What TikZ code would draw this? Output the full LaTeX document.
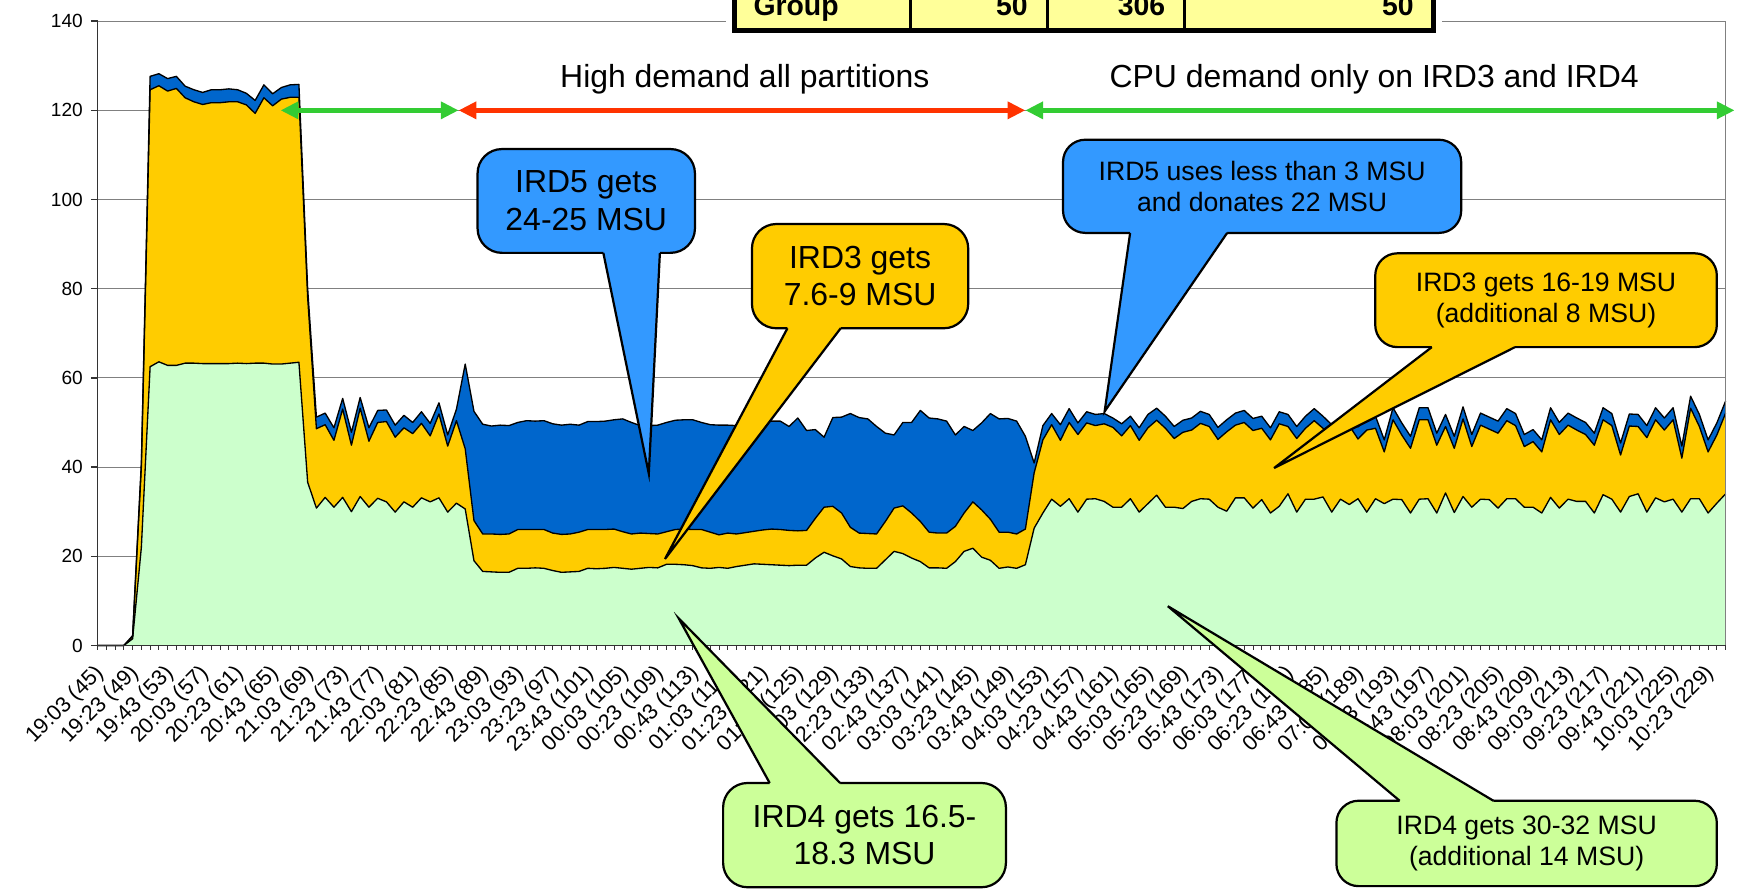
\documentclass[tikz,border=0pt]{standalone}
\usepackage{fontspec}
\setmainfont{Liberation Sans}
\usetikzlibrary{arrows.meta}
\definecolor{irdgreen}{RGB}{204,255,204}
\definecolor{irdyellow}{RGB}{255,204,0}
\definecolor{irdblue}{RGB}{0,102,204}
\definecolor{callblue}{RGB}{51,153,255}
\definecolor{callgreen}{RGB}{204,255,153}
\definecolor{tabyellow}{RGB}{255,255,153}
\definecolor{arrgreen}{RGB}{51,204,51}
\definecolor{arrred}{RGB}{255,51,0}
\definecolor{gridgray}{RGB}{128,128,128}
\def\Glist{0,0,0,0,1.5,22,
62.5,63.6,62.8,62.8,63.3,63.3,63.2,63.2,63.2,63.2,63.3,63.2,63.3,63.3,63.1,63.1,63.3,63.5,
36.6,
30.8,33.2,31,33.2,30,33.4,31,33,32.2,29.9,32.2,31,33.1,32.2,33.1,29.9,31.9,
30.6,19,
16.6,16.5,16.4,16.4,17.3,17.3,17.4,17.3,16.8,16.4,16.5,16.6,17.3,
17.2,17.3,17.5,17.3,17.1,17.3,17.5,17.4,18.2,18.2,18.1,17.9,17.4,17.3,17.5,17.3,17.7,18,18.3,18.2,18.1,18,17.9,18,18,19.6,20.9,20.1,19.4,17.7,17.4,17.3,17.3,19.2,21.1,20.6,19.6,18.8,17.4,17.4,17.3,18.8,21.1,21.8,19.8,19.1,17.3,17.6,17.3,18.1,
26.3,29.7,32.8,31.2,32.9,29.9,32.8,32.9,32.3,31,31,32.9,29.9,31.8,33.7,
31,31,30.7,32.3,32.9,32.8,31,30.1,33.1,33.1,30.8,32.7,29.7,31.2,34,29.9,32.8,32.8,33.3,29.9,32.8,31.6,32.9,29.9,32.9,31.8,32.8,32.7,29.7,32.8,32.9,29.7,34.2,29.8,33.4,31,32.8,32.7,30.8,32.9,32.9,31,31,29.7,33.2,30.8,32.8,32.3,32.3,29.7,33.8,32.8,29.9,33.4,34,29.9,33.1,32.2,32.8,29.9,32.9,32.9,29.7,31.9,34}
\def\Ylist{0,0,0,0,2,40,
124.6,125.5,124.3,124.9,122.8,121.9,121.3,121.7,121.7,121.9,121.9,121.2,119.3,122.8,121,122.5,122.9,122.9,
78,
48.6,49.5,46,53,44.9,53.2,45.8,50,50.2,46.7,48.8,47.5,49.8,47,51.9,44.7,50.4,
44.1,28,
25,25,24.9,25,26,26,26,26,25.2,24.9,25,25.4,26,
26,26,26.1,25.5,25,25.2,25.1,25,25.5,26,26.1,26,26,25.4,24.8,25.2,25,25.3,25.6,25.9,26.1,26,25.8,25.7,25.8,28.5,31,31.2,29.7,26.5,25.2,25.1,25,27.8,30.8,31.3,29.7,27.8,25.4,25.2,25.2,26.7,29.7,32.2,30.4,28.3,25.4,25.4,25,26.1,
38.7,46.1,49.5,46,50,47.3,49.9,49.3,49.7,48.9,47,49.3,46,48.8,50.5,
48.7,46.4,47.8,48.3,49.8,49.1,46.2,47.9,49.4,50,48.2,48.7,46.1,49.7,49.1,46.4,48.7,50.4,48.7,46.8,47.3,49.3,46.3,48.3,48.7,43.4,50.6,47.2,44.2,50.6,50.6,44.9,49.1,44.2,50.8,44.6,49.4,48.5,47.6,50.4,49.3,44.6,45.7,43.4,50.6,47.3,49.4,48.3,47.3,44.9,50.6,49.3,42.7,49.2,49.1,46.6,50.6,48.3,50.6,42,53.2,49.1,43.4,47.2,52.1}
\def\Blist{0,0,0,0,2.2,41,
127.6,128.2,127.1,127.6,125.4,124.6,124,124.6,124.6,124.8,124.6,123.8,122.2,125.7,123.7,125.1,125.7,125.8,
80,
51.2,52.1,48.8,55.4,47.8,55.6,48.8,52.7,52.8,49.4,51.6,50,52.4,49.8,54.4,47.2,53,
63.1,52.5,
49.6,49.2,49.4,49.3,50,50.4,50.3,50.4,49.7,49.4,49.6,49.4,50.2,
50.2,50.3,50.6,50.8,50,49.3,49.3,49.4,50,50.5,50.6,50.6,50,49.5,49.4,49.4,49.3,49.3,49.8,50.2,50.3,50.3,49.1,51,48.2,48.4,46.7,51.1,51.2,52,51.1,50.8,49.1,47.6,47.2,50,50,52.7,51,50.8,50.3,47.2,49.1,48.2,49.9,52,50.8,50.9,50.3,46.9,
40.9,49.3,52,49.5,53.1,49.9,52.4,51.8,52,51,49.7,51.4,48.8,51.8,53.2,
51.4,49.1,50.5,51,52.5,51.8,48.9,50.6,52.1,52.7,50.9,51.4,48.8,52.4,51.8,49.1,51.4,53.1,51.4,49.5,50,52,49,51,51.4,46.1,53.3,49.9,46.9,53.3,53.3,47.6,51.8,46.9,53.5,47.3,52.1,51.2,50.3,53.1,52,47.3,48.4,46.1,53.3,50,52.1,51,50,47.6,53.3,52,45.4,51.9,51.8,49.3,53.3,51,53.3,44.7,55.9,51.8,46.1,49.9,54.8}
\newcommand\mycalltail[5]{%
  \fill[#1] ([yshift=#5]#2) -- (#2) -- (#4) -- (#3) -- ([yshift=#5]#3) -- cycle;
  \draw[tailline] (#2) -- (#4) -- (#3);}
\begin{document}
\begin{tikzpicture}[x=0.5pt,y=-0.5pt,
  gridln/.style={draw=gridgray, line width=0.5pt},
  axisline/.style={draw=black!80, line width=0.6pt},
  serline/.style={draw=black, line width=0.6pt, line join=round},
  ylab/.style={anchor=east, font=\fontsize{8.6}{10}\selectfont, inner sep=0pt},
  xlab/.style={anchor=north east, rotate=45, font=\fontsize{9.8}{11}\selectfont, inner sep=0pt},
  phasearrow/.style={line width=2.1pt, {Triangle[length=8pt,width=7.5pt]}-{Triangle[length=8pt,width=7.5pt]}},
  phasetext/.style={anchor=base, font=\fontsize{14.4}{17}\selectfont, inner sep=0pt},
  callout/.style={draw=black, line width=1pt, rounded corners=11pt, inner sep=0pt, align=center},
  bigcall/.style={callout, font=\fontsize{14.4}{17}\selectfont},
  smallcall/.style={callout, rounded corners=10pt, font=\fontsize{12}{14}\selectfont},
  tailline/.style={draw=black, line width=1pt, line join=miter},
  tabtext/.style={font=\bfseries\fontsize{12.8}{14}\selectfont, inner sep=0pt},
]
\useasboundingbox (0,0) rectangle (1568,806);
% gridlines
\foreach \v in {20,40,...,140} \draw[gridln] (88,{582-4.02143*\v}) -- (1556,{582-4.02143*\v});
% stacked areas
\fill[irdblue] (88,582) \foreach \v [count=\i from 0] in \Blist { -- ({88+7.892*\i},{582-4.02143*\v}) } -- (1556,582) -- cycle;
\fill[irdyellow] (88,582) \foreach \v [count=\i from 0] in \Ylist { -- ({88+7.892*\i},{582-4.02143*\v}) } -- (1556,582) -- cycle;
\fill[irdgreen] (88,582) \foreach \v [count=\i from 0] in \Glist { -- ({88+7.892*\i},{582-4.02143*\v}) } -- (1556,582) -- cycle;
\draw[serline] (88,582) \foreach \v [count=\i from 0] in \Blist { -- ({88+7.892*\i},{582-4.02143*\v}) };
\draw[serline] (88,582) \foreach \v [count=\i from 0] in \Ylist { -- ({88+7.892*\i},{582-4.02143*\v}) };
\draw[serline] (88,582) \foreach \v [count=\i from 0] in \Glist { -- ({88+7.892*\i},{582-4.02143*\v}) };
% frame and axes
\draw[gridln] (1556,19) -- (1556,582);
\draw[axisline] (88,19) -- (88,582) -- (1556,582);
\foreach \v in {0,20,...,140} {
  \draw[axisline] (82,{582-4.02143*\v}) -- (88,{582-4.02143*\v});
  \node[ylab] (yl\v) at (75,{582-4.02143*\v}) {\v};
}
\foreach \i in {0,...,186} \draw[axisline, line width=0.4pt] ({88+7.892*\i},582) -- ({88+7.892*\i},586);
\foreach \t [count=\k from 0] in {19:03 (45),19:23 (49),19:43 (53),20:03 (57),20:23 (61),20:43 (65),21:03 (69),21:23 (73),21:43 (77),22:03 (81),22:23 (85),22:43 (89),23:03 (93),23:23 (97),23:43 (101),00:03 (105),00:23 (109),00:43 (113),01:03 (117),01:23 (121),01:43 (125),02:03 (129),02:23 (133),02:43 (137),03:03 (141),03:23 (145),03:43 (149),04:03 (153),04:23 (157),04:43 (161),05:03 (165),05:23 (169),05:43 (173),06:03 (177),06:23 (181),06:43 (185),07:03 (189),07:23 (193),07:43 (197),08:03 (201),08:23 (205),08:43 (209),09:03 (213),09:23 (217),09:43 (221),10:03 (225),10:23 (229)}
  \node[xlab] (xl\k) at ({84+31.568*\k},597) {\t};
% table fragment at top
\fill[white] (655,-5) rectangle (1300,32);
\fill[tabyellow] (662,-5) rectangle (1292.5,27.8);
\foreach \cx in {821,944.5,1068} \draw[line width=1pt] (\cx,-5) -- (\cx,27.8);
\draw[line width=2.2pt, line join=miter] (662,-5) -- (662,27.8) -- (1292.5,27.8) -- (1292.5,-5);
\node[tabtext, anchor=base west] (tg) at (679,14.4) {Group};
\node[tabtext, anchor=base east] (tv1) at (927,14.4) {50};
\node[tabtext, anchor=base east] (tv2) at (1051,14.4) {306};
\node[tabtext, anchor=base east] (tv3) at (1275,14.4) {50};
% phase arrows and titles
\coordinate (a1) at (253,99.5);
\coordinate (a2) at (413.5,99.5);
\coordinate (a3) at (924.5,99.5);
\coordinate (a4) at (1564,99.5);
\draw[phasearrow, arrgreen] (a1) -- (a2);
\draw[phasearrow, arrred] (a2) -- (a3);
\draw[phasearrow, arrgreen] (a3) -- (a4);
\node[phasetext] (ph1) at (671.6,78.7) {High demand all partitions};
\node[phasetext] (ph2) at (1239,78.7) {CPU demand only on IRD3 and IRD4};
% callouts
\node[bigcall, fill=callblue, minimum width=98pt, minimum height=46.8pt] (c1) at (528.6,181.2) {IRD5 gets\\24-25 MSU};
\coordinate (c1l) at (544,228); \coordinate (c1r) at (595,228); \coordinate (c1t) at (585,427);
\mycalltail{callblue}{c1l}{c1r}{c1t}{2pt}
\node[bigcall, fill=irdyellow, minimum width=97.5pt, minimum height=47pt] (c2) at (775.5,249) {IRD3 gets\\7.6-9 MSU};
\coordinate (c2l) at (710,296); \coordinate (c2r) at (758,296); \coordinate (c2t) at (599.6,504);
\mycalltail{irdyellow}{c2l}{c2r}{c2t}{2pt}
\node[bigcall, fill=callgreen, minimum width=127.5pt, minimum height=47pt] (c3) at (779.5,753) {IRD4 gets 16.5-\\18.3 MSU};
\coordinate (c3l) at (694,706); \coordinate (c3r) at (757.5,706); \coordinate (c3t) at (612,557.6);
\mycalltail{callgreen}{c3l}{c3r}{c3t}{-2pt}
\node[smallcall, fill=callblue, minimum width=179.5pt, minimum height=42pt] (c4) at (1138,168) {IRD5 uses less than 3 MSU\\and donates 22 MSU};
\coordinate (c4l) at (1019,210); \coordinate (c4r) at (1106.5,210); \coordinate (c4t) at (996,371);
\mycalltail{callblue}{c4l}{c4r}{c4t}{2pt}
\node[smallcall, fill=irdyellow, minimum width=154pt, minimum height=42.3pt] (c5) at (1394,270.7) {IRD3 gets 16-19 MSU\\(additional 8 MSU)};
\coordinate (c5l) at (1291,313); \coordinate (c5r) at (1366,313); \coordinate (c5t) at (1148.8,422);
\mycalltail{irdyellow}{c5l}{c5r}{c5t}{2pt}
\node[smallcall, fill=callgreen, minimum width=171.5pt, minimum height=38.5pt] (c6) at (1376.5,760.5) {IRD4 gets 30-32 MSU\\(additional 14 MSU)};
\coordinate (c6l) at (1262,722); \coordinate (c6r) at (1346.5,722); \coordinate (c6t) at (1053,546.6);
\mycalltail{callgreen}{c6l}{c6r}{c6t}{-2pt}
\end{tikzpicture}
\end{document}
